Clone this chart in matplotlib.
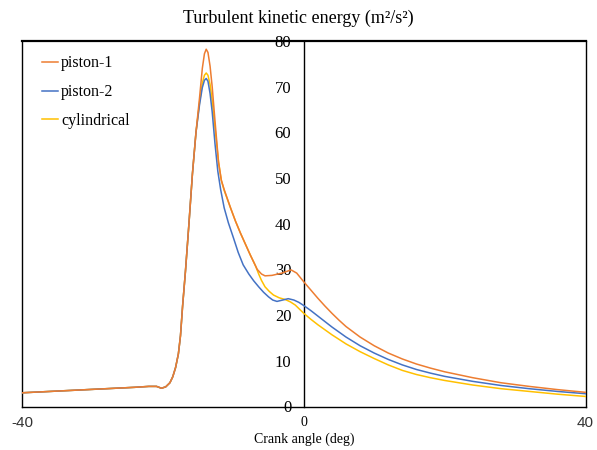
import numpy as np
import matplotlib.pyplot as plt

# shared part: compression stroke up to the start of the spike (all cases overlap)
rise_deg = [-40, -36, -32, -28, -24, -22, -20.9, -20.2, -19.6, -19.0, -18.6, -18.2,
            -17.8, -17.5, -17.2, -16.8, -16.3, -15.8, -15.3]
rise_tke = [3.0, 3.3, 3.6, 3.9, 4.2, 4.4, 4.4, 4.0, 4.3, 5.2, 6.5, 8.5,
            11.5, 15.5, 22.0, 29.5, 40.0, 51.0, 60.0]

p1_deg = [-14.8, -14.4, -14.1, -13.85, -13.6, -13.3, -13.0, -12.6, -12.1, -11.7, -11.3, -10.4,
          -9.7, -9.0, -8.3, -7.6, -7.1, -6.6, -6.0, -5.5, -4.5, -3.1, -1.8, -1.0, 0,
          1, 2, 3, 4, 5, 6, 8, 10, 12, 14, 16, 18, 20, 24, 28, 32, 36, 40]
p1_tke = [67.5, 74.0, 77.2, 78.2, 77.5, 74.5, 70.0, 62.5, 53.5, 49.5, 47.5, 43.5,
          40.6, 38.0, 35.6, 33.2, 31.6, 30.0, 29.0, 28.6, 28.7, 29.2, 29.9, 29.2, 27.3,
          25.5, 23.7, 22.0, 20.4, 18.9, 17.5, 15.2, 13.3, 11.7, 10.4, 9.3, 8.4, 7.6, 6.3, 5.2, 4.4, 3.7, 3.1]

p2_deg = [-14.8, -14.4, -14.1, -13.85, -13.6, -13.3, -13.0, -12.6, -12.2, -11.8, -11.3, -10.7,
          -10.0, -9.3, -8.6, -7.8, -7.1, -6.4, -5.7, -5.0, -4.4, -3.8, -3.0, -2.2, -1.4,
          -0.7, 0, 1, 2, 3, 4, 5, 6, 8, 10, 12, 14, 16, 18, 20, 24, 28, 32, 36, 40]
p2_tke = [66.0, 69.8, 71.4, 71.8, 71.2, 68.5, 64.5, 57.5, 51.5, 47.5, 43.5, 40.2,
          37.0, 33.7, 31.0, 29.0, 27.5, 26.2, 25.0, 24.0, 23.3, 23.0, 23.3, 23.6, 23.3,
          22.8, 22.1, 21.0, 19.8, 18.6, 17.4, 16.3, 15.2, 13.3, 11.7, 10.3, 9.1, 8.1, 7.3, 6.6, 5.5, 4.6, 3.9, 3.3, 2.8]

cy_deg = [-14.8, -14.4, -14.1, -13.85, -13.6, -13.3, -13.0, -12.6, -12.1, -11.7, -11.3, -10.4,
          -9.7, -9.0, -8.3, -7.6, -7.1, -6.8, -6.4, -6.0, -5.5, -4.9, -4.3, -3.5, -2.6,
          -1.9, -1.2, 0, 1, 2, 3, 4, 5, 6, 8, 10, 12, 14, 16, 18, 20, 24, 28, 32, 36, 40]
cy_tke = [66.5, 70.8, 72.5, 73.0, 72.5, 70.5, 67.0, 61.0, 53.5, 49.5, 47.3, 43.5,
          40.6, 38.0, 35.6, 33.2, 31.6, 30.6, 29.0, 27.6, 26.2, 25.2, 24.4, 23.8, 23.4,
          22.9, 22.2, 20.4, 19.1, 17.9, 16.8, 15.7, 14.7, 13.7, 12.0, 10.5, 9.1, 7.9, 7.0, 6.3, 5.7, 4.7, 3.9, 3.3, 2.7, 2.2]

labels = ['piston-1', 'piston-2', 'cylindrical']
colors = ['#ED7D31', '#4472C4', '#FFC000']

serif = 'Liberation Serif'
sans = 'Liberation Sans'

fig = plt.figure(figsize=(5.97, 4.5), dpi=100)
ax = fig.add_axes([22 / 597, 1 - 406.5 / 450, (585.5 - 22) / 597, (406.5 - 41) / 450])

series = [(p1_deg, p1_tke), (p2_deg, p2_tke), (cy_deg, cy_tke)]
# cylindrical goes underneath, piston-1 on top
for i in [2, 1, 0]:
    d, t = series[i]
    x = np.array(rise_deg + d)
    y = np.array(rise_tke + t)
    ax.plot(x, y, color=colors[i], lw=1.1, label=labels[i], zorder=3 + (2 - i),
            solid_joinstyle='round')

ax.set_xlim(-40, 40)
ax.set_ylim(0, 80)

# y axis sits at crank angle 0, box all round
ax.spines['left'].set_position(('data', 0))
for s in ['left', 'right', 'bottom']:
    ax.spines[s].set_linewidth(1.0)
ax.spines['top'].set_linewidth(1.6)
ax.axvline(-40, color='black', lw=1.0, clip_on=False)

ax.set_yticks(np.arange(0, 81, 10))
ax.set_yticklabels([str(v) for v in range(0, 81, 10)], fontfamily=serif, fontsize=12)
ax.tick_params(axis='y', length=0, pad=9)

ax.set_xticks([-40, 0, 40])
ax.set_xticklabels(['-40', '0', '40'])
ax.tick_params(axis='x', length=0, pad=7)
xt = ax.get_xticklabels()
xt[0].set_fontfamily(sans); xt[0].set_fontsize(11); xt[0].set_color('#333333')
xt[1].set_fontfamily(serif); xt[1].set_fontsize(10)
xt[2].set_fontfamily(sans); xt[2].set_fontsize(11); xt[2].set_color('#333333')

ax.set_xlabel('Crank angle (deg)', fontfamily=serif, fontsize=10, labelpad=1.5)
fig.text(0.5, 0.96, 'Turbulent kinetic energy (m²/s²)', ha='center', va='center',
         fontfamily=serif, fontsize=13)

h, l = ax.get_legend_handles_labels()
order = [l.index(n) for n in labels]
ax.legend([h[k] for k in order], labels, loc='upper left', frameon=False,
          handlelength=1.0, handletextpad=0.2, labelspacing=0.8,
          prop={'family': serif, 'size': 11.5}, bbox_to_anchor=(0.01, 1.0))

fig.savefig('out.png', dpi=100)
